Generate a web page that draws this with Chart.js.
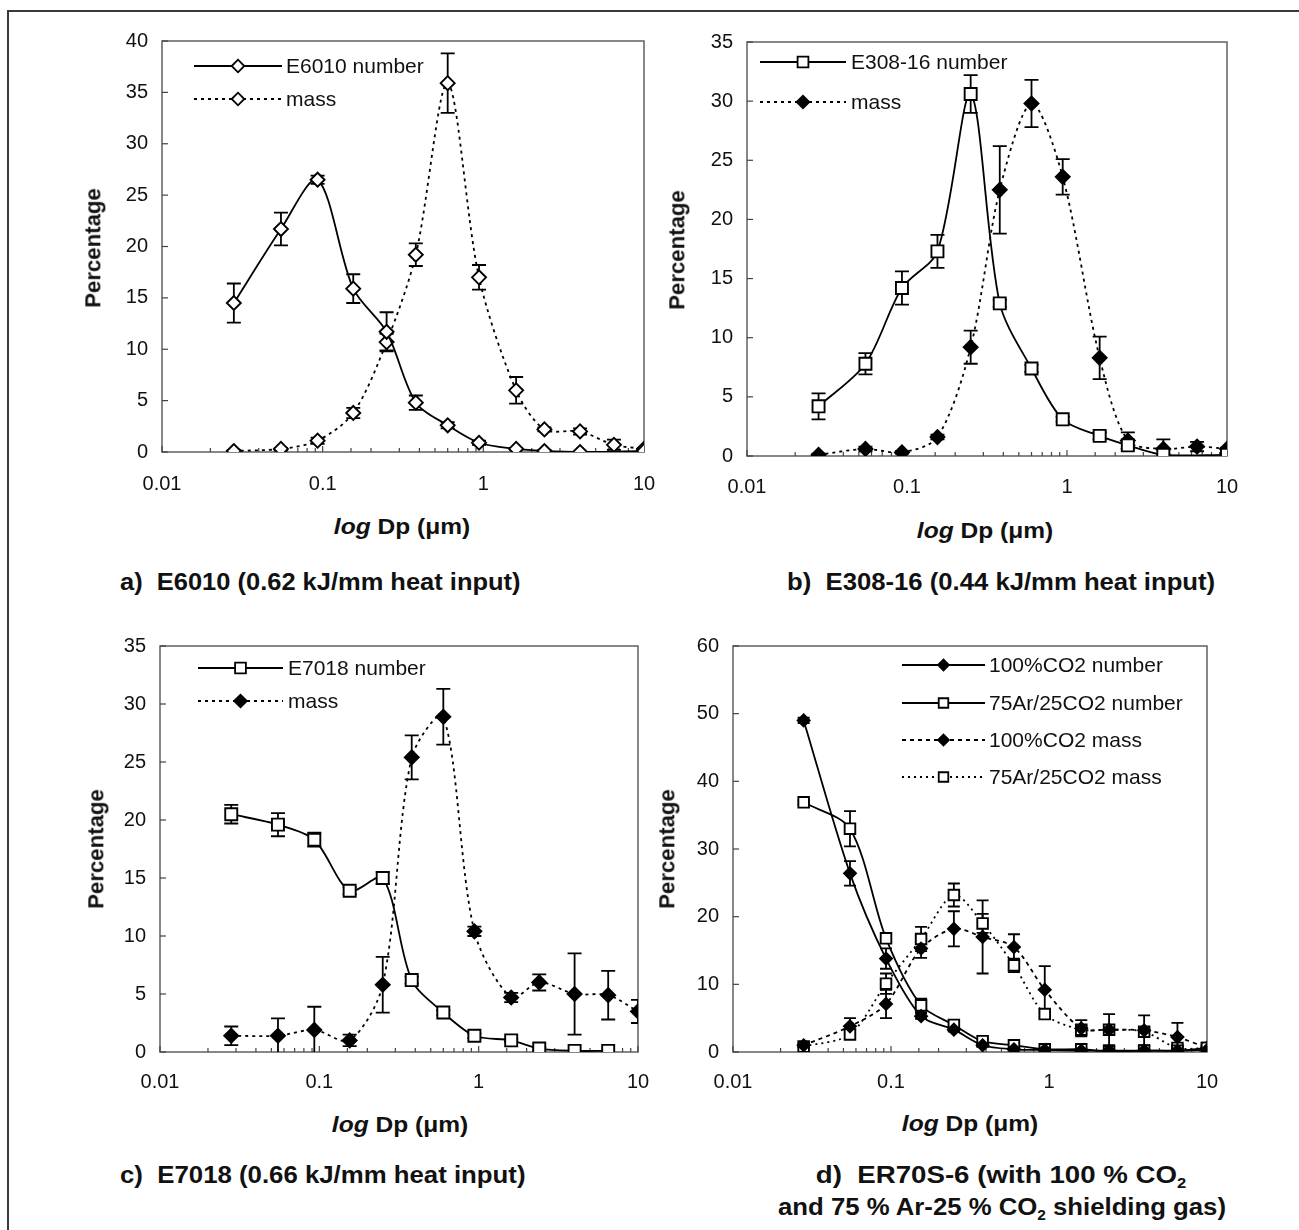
<!DOCTYPE html>
<html><head><meta charset="utf-8">
<script src="https://cdn.jsdelivr.net/npm/chart.js@4.4.1/dist/chart.umd.min.js"></script>
<style>
html,body{margin:0;padding:0;background:#fff}
#page{position:relative;width:1299px;height:1230px;overflow:hidden;background:#fff;font-family:'Liberation Sans',Arial,Helvetica,sans-serif;color:#111}
#frame{position:absolute;left:7px;top:10px;width:1400px;height:1400px;border-left:2px solid #3a3a3a;border-top:2px solid #3a3a3a}
canvas{position:absolute}
.t{position:absolute;white-space:nowrap;font-weight:bold;line-height:1.15;color:#111}
.sub{font-size:0.6em;position:relative;top:0.35em}
</style></head>
<body><div id="page"><div id="frame"></div></div>
<script>
// ---------- data ----------
const DP = [0.028, 0.055, 0.093, 0.155, 0.25, 0.38, 0.60, 0.94, 1.6, 2.4, 4.0, 6.5, 10];
const X_TICK_LABELS = ['0.01', '0.1', '1', '10'];

// a) E6010
const A_NUM      = [14.5, 21.7, 26.5, 15.9, 11.7, 4.8, 2.6, 0.9, 0.3, 0.1, 0.0, null, 0.1];
const A_NUM_ERR  = [1.9, 1.6, 0.4, 1.4, 1.9, 0.7, 0.3, 0.2, 0.1, 0.1, 0.0, 0.0, 0.0];
const A_MASS     = [0.1, 0.3, 1.1, 3.8, 10.7, 19.2, 35.9, 17.0, 6.0, 2.2, 2.0, 0.7, 0.3];
const A_MASS_ERR = [0.1, 0.1, 0.3, 0.5, 0.8, 1.1, 2.9, 1.2, 1.3, 0.2, 0.3, 0.5, 0.1];

// b) E308-16
const B_NUM      = [4.2, 7.8, 14.2, 17.3, 30.6, 12.9, 7.4, 3.1, 1.7, 0.9, 0.1, null, 0.1];
const B_NUM_ERR  = [1.1, 0.9, 1.4, 1.4, 1.6, 0.3, 0.3, 0.2, 0.3, 0.3, 0.1, 0.0, 0.1];
const B_MASS     = [0.1, 0.6, 0.3, 1.6, 9.2, 22.5, 29.8, 23.6, 8.3, 1.3, 0.6, 0.8, 0.6];
const B_MASS_ERR = [0.1, 0.2, 0.1, 0.2, 1.4, 3.7, 2.0, 1.5, 1.8, 0.7, 0.8, 0.4, 0.1];

// c) E7018
const C_NUM      = [20.5, 19.6, 18.3, 13.9, 15.0, 6.2, 3.4, 1.4, 1.0, 0.3, 0.1, 0.1, null];
const C_NUM_ERR  = [0.8, 1.0, 0.6, 0.3, 0.5, 0.3, 0.2, 0.2, 0.1, 0.1, 0.0, 0.0, 0.0];
const C_MASS     = [1.4, 1.4, 1.9, 1.0, 5.8, 25.4, 28.9, 10.4, 4.7, 6.0, 5.0, 4.9, 3.5];
const C_MASS_ERR = [0.8, 1.5, 2.0, 0.5, 2.4, 1.9, 2.4, 0.4, 0.4, 0.7, 3.5, 2.1, 1.0];

// d) ER70S-6
const D_CO2_NUM      = [49.0, 26.4, 13.8, 5.3, 3.3, 1.0, 0.4, 0.3, 0.2, 0.2, 0.2, 0.2, 0.3];
const D_CO2_NUM_ERR  = [0.4, 1.8, 1.5, 0.4, 0.3, 0.2, 0.1, 0.1, 0.1, 0.1, 0.1, 0.1, 0.1];
const D_AR_NUM       = [36.9, 33.0, 16.8, 6.9, 4.0, 1.6, 1.0, 0.4, 0.4, 0.1, 0.2, 0.2, 0.6];
const D_AR_NUM_ERR   = [0.3, 2.6, 0.5, 1.0, 0.4, 0.3, 0.2, 0.1, 0.1, 0.1, 0.1, 0.1, 0.1];
const D_CO2_MASS     = [1.0, 3.8, 7.1, 15.3, 18.2, 17.0, 15.5, 9.2, 3.5, 3.3, 3.2, 2.2, 0.6];
const D_CO2_MASS_ERR = [0.3, 1.2, 2.1, 1.4, 2.6, 5.4, 1.9, 3.5, 1.2, 2.3, 2.2, 2.1, 0.3];
const D_AR_MASS      = [0.8, 2.6, 10.1, 16.7, 23.2, 19.0, 12.8, 5.6, 3.3, 3.3, 3.0, 0.6, 0.6];
const D_AR_MASS_ERR  = [0.2, 0.5, 1.5, 1.8, 1.7, 1.4, 1.0, 0.5, 0.6, 0.6, 0.6, 0.3, 0.2];

// ---------- styles ----------
const FONT = "'Liberation Sans', Arial, Helvetica, sans-serif";
Chart.defaults.font.family = FONT;
const OPEN_DIAMOND = {pointStyle:'rectRot', pointRadius:7, pointBackgroundColor:'#fff'};
const FILL_DIAMOND = {pointStyle:'rectRot', pointRadius:7, pointBackgroundColor:'#000'};
const OPEN_SQUARE  = {pointStyle:'rect', pointRadius:8.5, pointBackgroundColor:'#fff'};
const SOLID = [], DASH = [4, 4], DOT = [2, 4];

function series(label, ys, errs, marker, dash, extra) {
  const data = [];
  DP.forEach((x, i) => { if (ys[i] !== null) data.push({x: x, y: ys[i], e: errs[i]}); });
  return Object.assign({
    label, data, showLine: true, tension: 0.3, fill: false,
    borderColor: '#000', borderWidth: 1.8, borderDash: dash,
    pointBorderColor: '#000', pointBorderWidth: 1.9, cap: 7
  }, marker, extra || {});
}

// ---------- plugins ----------
const page = document.getElementById('page');
const XH = 52;   // x-axis box height
const YW = 70;   // y-axis box width
const PT = 20;   // top padding
const PR = 45;   // right padding

const drawPlugin = {
  id: 'figDraw',
  beforeDatasetsDraw(chart) {
    const ctx = chart.ctx, a = chart.chartArea, xs = chart.scales.x, ys = chart.scales.y;
    ctx.save();
    ctx.strokeStyle = '#6a6a6a'; ctx.lineWidth = 1.6; ctx.setLineDash([]);
    ctx.strokeRect(a.left, a.top, a.right - a.left, a.bottom - a.top);
    ctx.strokeStyle = '#444'; ctx.lineWidth = 1.2;
    ys.ticks.forEach(t => {
      const y = ys.getPixelForValue(t.value);
      ctx.beginPath(); ctx.moveTo(a.left, y); ctx.lineTo(a.left + 6, y); ctx.stroke();
    });
    xs.ticks.forEach(t => {
      const x = xs.getPixelForValue(t.value);
      const l = Math.log10(t.value), major = Math.abs(l - Math.round(l)) < 1e-6;
      ctx.beginPath(); ctx.moveTo(x, a.bottom); ctx.lineTo(x, a.bottom - (major ? 6 : 4)); ctx.stroke();
    });
    // error bars
    ctx.beginPath(); ctx.rect(a.left, a.top - 2, a.right - a.left, a.bottom - a.top + 2); ctx.clip();
    ctx.strokeStyle = '#000'; ctx.lineWidth = 1.8;
    chart.data.datasets.forEach((ds, di) => {
      const meta = chart.getDatasetMeta(di);
      meta.data.forEach((pt, i) => {
        const d = ds.data[i];
        if (!d || !d.e) return;
        const yt = ys.getPixelForValue(d.y + d.e), yb = ys.getPixelForValue(Math.max(d.y - d.e, 0));
        const c = ds.cap;
        ctx.beginPath();
        ctx.moveTo(pt.x, yt); ctx.lineTo(pt.x, yb);
        ctx.moveTo(pt.x - c, yt); ctx.lineTo(pt.x + c, yt);
        if (d.y - d.e > 0) { ctx.moveTo(pt.x - c, yb); ctx.lineTo(pt.x + c, yb); }
        ctx.stroke();
      });
    });
    ctx.restore();
  },
  afterDatasetsDraw(chart) {
    const o = chart.options.plugins.figDraw;
    if (!o || !o.legend) return;
    const ctx = chart.ctx, L = o.legend;
    ctx.save();
    chart.data.datasets.forEach((ds, i) => {
      const y = L.rows[i] - o.top, x0 = L.x0 - o.left, x1 = L.x1 - o.left, xm = (x0 + x1) / 2;
      ctx.strokeStyle = '#000'; ctx.lineWidth = 1.8; ctx.setLineDash(ds.borderDash || []);
      ctx.beginPath(); ctx.moveTo(x0, y); ctx.lineTo(x1, y); ctx.stroke();
      ctx.setLineDash([]);
      ctx.fillStyle = ds.pointBackgroundColor; ctx.strokeStyle = '#000'; ctx.lineWidth = 1.8;
      Chart.helpers.drawPoint(ctx, {pointStyle: ds.pointStyle, radius: ds.pointRadius * 0.9, rotation: 0, borderWidth: 1.8}, xm, y);
      ctx.fillStyle = '#111'; ctx.font = L.font + 'px ' + FONT; ctx.textBaseline = 'middle'; ctx.textAlign = 'left';
      ctx.fillText(ds.label, L.tx - o.left, y + 1);
    });
    ctx.restore();
  }
};

function makeChart(p) {
  const cl = p.L - YW, ct = p.T - PT, cw = p.R - p.L + YW + PR, ch = p.B - p.T + PT + XH;
  const cv = document.createElement('canvas');
  cv.width = cw; cv.height = ch;
  cv.style.left = cl + 'px'; cv.style.top = ct + 'px'; cv.style.width = cw + 'px'; cv.style.height = ch + 'px';
  page.appendChild(cv);
  new Chart(cv, {
    type: 'scatter',
    data: {datasets: p.datasets},
    options: {
      responsive: false, animation: false, devicePixelRatio: 1,
      layout: {padding: {top: PT, right: PR, left: 0, bottom: 0}},
      plugins: {legend: {display: false}, tooltip: {enabled: false},
        figDraw: {left: cl, top: ct, legend: p.legend}},
      scales: {
        x: {type: 'logarithmic', min: 0.01, max: 10,
          afterFit: s => { s.height = XH; },
          grid: {display: false, drawTicks: false}, border: {display: false},
          ticks: {autoSkip: false, maxRotation: 0, minRotation: 0, padding: p.xpad, color: '#111', font: {size: 20},
            callback: v => { const l = Math.log10(v); return Math.abs(l - Math.round(l)) < 1e-6 ? X_TICK_LABELS[Math.round(l) + 2] : ''; }}},
        y: {min: 0, max: p.ymax,
          afterFit: s => { s.width = YW; },
          grid: {display: false, drawTicks: false}, border: {display: false},
          ticks: {stepSize: p.step, padding: 14, color: '#111', font: {size: 20}}}
      }
    },
    plugins: [drawPlugin]
  });
}

// ---------- panels ----------
makeChart({L: 162, T: 35, R: 644, B: 452, ymax: 40, step: 5, xpad: 20,
  datasets: [
    series('E6010 number', A_NUM, A_NUM_ERR, OPEN_DIAMOND, SOLID),
    series('mass', A_MASS, A_MASS_ERR, OPEN_DIAMOND, [3, 4])
  ],
  legend: {x0: 194, x1: 282, tx: 286, rows: [66, 99], font: 21}});

makeChart({L: 747, T: 36, R: 1227, B: 456, ymax: 35, step: 5, xpad: 19,
  datasets: [
    series('E308-16 number', B_NUM, B_NUM_ERR, OPEN_SQUARE, SOLID),
    series('mass', B_MASS, B_MASS_ERR, FILL_DIAMOND, [3, 4])
  ],
  legend: {x0: 760, x1: 846, tx: 851, rows: [62, 102], font: 21}});

makeChart({L: 160, T: 640, R: 638, B: 1052, ymax: 35, step: 5, xpad: 18,
  datasets: [
    series('E7018 number', C_NUM, C_NUM_ERR, OPEN_SQUARE, SOLID),
    series('mass', C_MASS, C_MASS_ERR, FILL_DIAMOND, [3, 4])
  ],
  legend: {x0: 198, x1: 283, tx: 288, rows: [668, 701], font: 21}});

makeChart({L: 733, T: 640, R: 1207, B: 1052, ymax: 60, step: 10, xpad: 18,
  datasets: [
    series('100%CO2 number', D_CO2_NUM, D_CO2_NUM_ERR, Object.assign({}, FILL_DIAMOND, {pointRadius: 6}), SOLID, {cap: 6}),
    series('75Ar/25CO2 number', D_AR_NUM, D_AR_NUM_ERR, Object.assign({}, OPEN_SQUARE, {pointRadius: 7.5}), SOLID, {cap: 6}),
    series('100%CO2 mass', D_CO2_MASS, D_CO2_MASS_ERR, Object.assign({}, FILL_DIAMOND, {pointRadius: 6}), DASH, {cap: 6}),
    series('75Ar/25CO2 mass', D_AR_MASS, D_AR_MASS_ERR, Object.assign({}, OPEN_SQUARE, {pointRadius: 7.5}), DOT, {cap: 6})
  ],
  legend: {x0: 902, x1: 985, tx: 989, rows: [665, 703, 740, 777], font: 21}});

// ---------- html text ----------
function addText(html, o) {
  const d = document.createElement('div');
  d.className = 't'; d.innerHTML = html; d.style.fontSize = o.size + 'px';
  page.appendChild(d);
  const k = o.w ? o.w / d.offsetWidth : 1;
  d.style.left = o.x + 'px'; d.style.top = o.y + 'px';
  let tr;
  if (o.anchor === 'left') { d.style.transformOrigin = 'left center'; tr = 'translate(0,-50%)'; }
  else { d.style.transformOrigin = 'center center'; tr = 'translate(-50%,-50%)'; }
  if (o.rot) tr += ' rotate(-90deg)';
  tr += ' scaleX(' + k.toFixed(4) + ')';
  d.style.transform = tr;
}
const XT = '<i>log</i> Dp (\u03bcm)';
addText('Percentage', {x: 93, y: 248, w: 120, size: 22, rot: true});
addText('Percentage', {x: 677, y: 250, w: 120, size: 22, rot: true});
addText('Percentage', {x: 96, y: 849, w: 120, size: 22, rot: true});
addText('Percentage', {x: 667, y: 849, w: 120, size: 22, rot: true});
addText(XT, {x: 402, y: 527, w: 136, size: 22});
addText(XT, {x: 985, y: 531, w: 136, size: 22});
addText(XT, {x: 400, y: 1125, w: 136, size: 22});
addText(XT, {x: 970, y: 1124, w: 136, size: 22});
addText('a)&nbsp;&nbsp;E6010 (0.62 kJ/mm heat input)', {x: 120, y: 582, w: 400, size: 24, anchor: 'left'});
addText('b)&nbsp;&nbsp;E308-16 (0.44 kJ/mm heat input)', {x: 787, y: 582, w: 428, size: 24, anchor: 'left'});
addText('c)&nbsp;&nbsp;E7018 (0.66 kJ/mm heat input)', {x: 120, y: 1175, w: 405, size: 24, anchor: 'left'});
addText('d)&nbsp;&nbsp;ER70S-6 (with 100 % CO<span class="sub">2</span>', {x: 1001, y: 1175, w: 370, size: 24});
addText('and 75 % Ar-25 % CO<span class="sub">2</span> shielding gas)', {x: 1002, y: 1207, w: 448, size: 24});
</script>
</body></html>
